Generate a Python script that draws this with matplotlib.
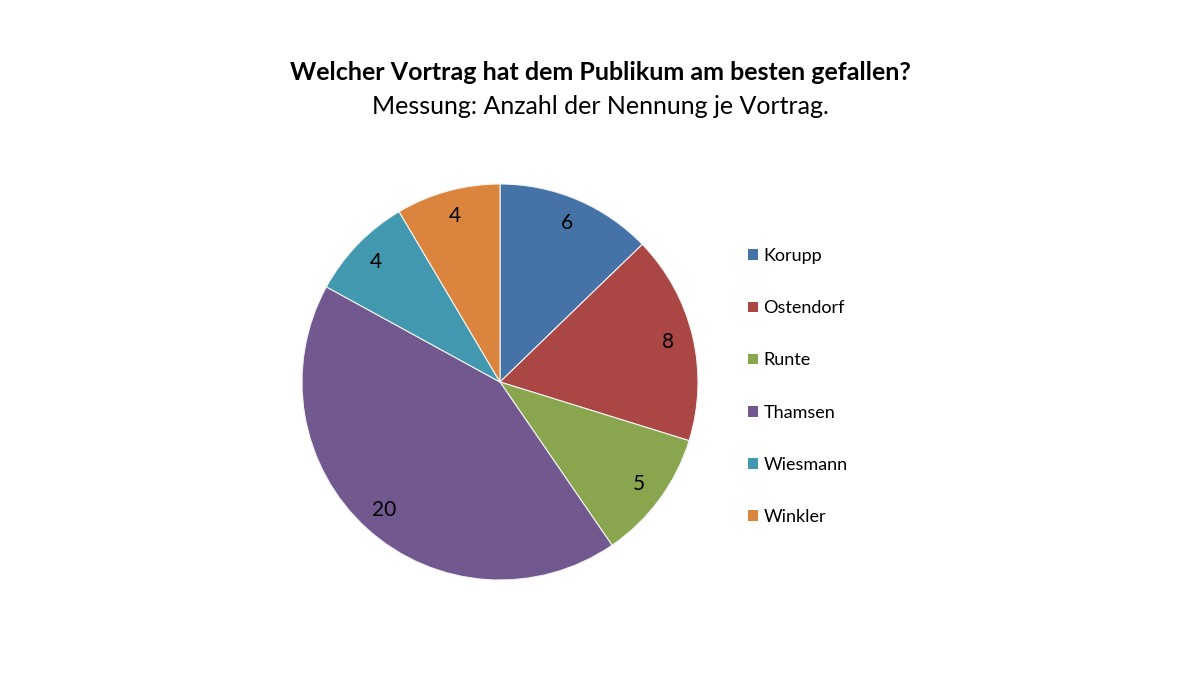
import matplotlib
matplotlib.use("Agg")
import matplotlib.pyplot as plt
from matplotlib.patches import Patch

plt.rcParams['font.family'] = ['Lato', 'DejaVu Sans']

# data
speakers = ['Korupp', 'Ostendorf', 'Runte', 'Thamsen', 'Wiesmann', 'Winkler']
votes = [6, 8, 5, 20, 4, 4]
colors = ['#4572A7', '#AA4643', '#89A54E', '#71588F', '#4198AF', '#DB843D']

total = sum(votes)

fig = plt.figure(figsize=(12, 6.75), dpi=100)
fig.patch.set_facecolor('white')

fig.text(0.5, 1 - 73 / 675, 'Welcher Vortrag hat dem Publikum am besten gefallen?',
         ha='center', va='center', fontsize=18, fontweight='bold')
fig.text(0.5, 1 - 106 / 675, 'Messung: Anzahl der Nennung je Vortrag.',
         ha='center', va='center', fontsize=18)

# pie centered at (500, 382) px, radius ~198 px
ax = fig.add_axes([302 / 1200, 1 - 580 / 675, 396 / 1200, 396 / 675])
wedges, texts, autotexts = ax.pie(
    votes, colors=colors, startangle=90, counterclock=False,
    autopct=lambda p: '%d' % round(p * total / 100), pctdistance=0.87,
    wedgeprops=dict(edgecolor='#f2f2f2', linewidth=0.8),
    textprops=dict(fontsize=15, color='black'))
ax.set_xlim(-1, 1)
ax.set_ylim(-1, 1)
ax.set_aspect('equal')

handles = [Patch(facecolor=c, edgecolor='none') for c in colors]
fig.legend(handles, speakers, loc='upper left',
           bbox_to_anchor=(741 / 1200, 1 - 241 / 675),
           frameon=False, fontsize=13, handlelength=0.55, handleheight=0.55,
           handletextpad=0.3, labelspacing=2.0, borderaxespad=0)

fig.savefig('out.png', dpi=100)
